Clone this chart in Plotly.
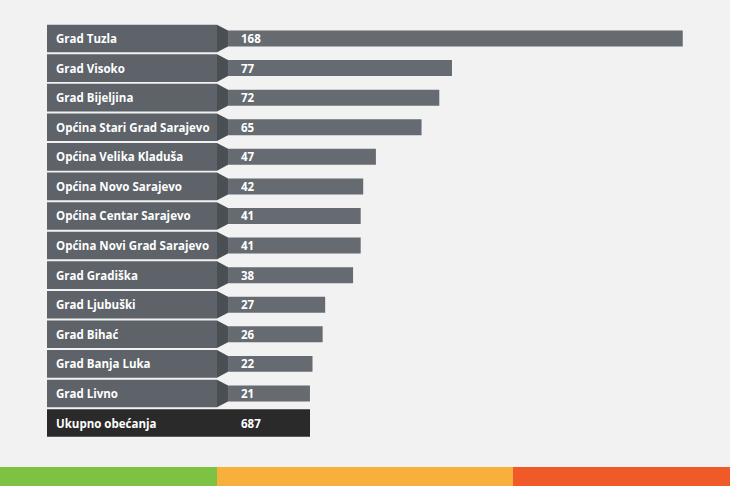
import plotly.graph_objects as go

categories = [
    "Grad Tuzla", "Grad Visoko", "Grad Bijeljina", "Općina Stari Grad Sarajevo",
    "Općina Velika Kladuša", "Općina Novo Sarajevo", "Općina Centar Sarajevo",
    "Općina Novi Grad Sarajevo", "Grad Gradiška", "Grad Ljubuški", "Grad Bihać",
    "Grad Banja Luka", "Grad Livno",
]
values = [168, 77, 72, 65, 47, 42, 41, 41, 38, 27, 26, 22, 21]
total_label = "Ukupno obećanja"
total_value = 687

# layout / style constants (pixels of the 730x486 page)
W, H = 730, 486
ROW0, PITCH = 38.5, 29.58          # centre of first row, row pitch
X_ZERO, PX_PER_UNIT = 256.7, 2.536  # pixel of value 0, pixels per unit
BAR_BASE = -11.3                    # bars start under the arrow tip
BOX_L, BOX_R, TIP_R = 47, 217, 228
TOTAL_R = 310
LABEL_X, VALUE_X = 54, 239
BOX_HALF = 0.467
BAR_WIDTH = 0.54

BG = "#f2f2f2"
BOX_C = "#5d6369"
TIP_C = "#4a4f54"
BAR_C = "#656b71"
TOTAL_C = "#2a2a2a"
FONT = "Open Sans"
FS = 11.5

n = len(categories)
idx = list(range(n))

fig = go.Figure()
fig.add_trace(go.Bar(
    y=idx, x=[v - BAR_BASE for v in values], base=BAR_BASE,
    orientation="h", width=BAR_WIDTH, marker=dict(color=BAR_C, line=dict(width=0)),
    hoverinfo="skip",
))

shapes = []
annotations = []
px = lambda p: p / W
font = dict(family=FONT, size=FS, color="white", weight=700)
for i, (c, v) in enumerate(zip(categories, values)):
    shapes.append(dict(type="rect", xref="paper", yref="y",
                       x0=px(BOX_L), x1=px(BOX_R), y0=i - BOX_HALF, y1=i + BOX_HALF,
                       fillcolor=BOX_C, line=dict(width=0), layer="above"))
    path = (f"M {px(BOX_R)},{i - BOX_HALF} L {px(TIP_R)},{i - BAR_WIDTH/2} "
            f"L {px(TIP_R)},{i + BAR_WIDTH/2} L {px(BOX_R)},{i + BOX_HALF} Z")
    shapes.append(dict(type="path", xref="paper", yref="y", path=path,
                       fillcolor=TIP_C, line=dict(width=0), layer="above"))
    annotations.append(dict(xref="paper", yref="y", x=px(LABEL_X), y=i, text=c,
                            xanchor="left", yanchor="middle", showarrow=False, font=font))
    annotations.append(dict(xref="paper", yref="y", x=px(VALUE_X), y=i, text=str(v),
                            xanchor="left", yanchor="middle", showarrow=False, font=font))

ti = n
shapes.append(dict(type="rect", xref="paper", yref="y",
                   x0=px(BOX_L), x1=px(TOTAL_R), y0=ti - BOX_HALF, y1=ti + BOX_HALF,
                   fillcolor=TOTAL_C, line=dict(width=0), layer="above"))
annotations.append(dict(xref="paper", yref="y", x=px(LABEL_X), y=ti, text=total_label,
                        xanchor="left", yanchor="middle", showarrow=False, font=font))
annotations.append(dict(xref="paper", yref="y", x=px(VALUE_X), y=ti, text=str(total_value),
                        xanchor="left", yanchor="middle", showarrow=False, font=font))

# bottom colour stripe
stripe_top = (H - 467) / H
for x0, x1, col in [(0, 217, "#7dc242"), (217, 513, "#f8b03c"), (513, 730, "#f05a28")]:
    shapes.append(dict(type="rect", xref="paper", yref="paper",
                       x0=px(x0), x1=px(x1), y0=0, y1=stripe_top,
                       fillcolor=col, line=dict(width=0), layer="above"))

fig.update_layout(
    width=W, height=H, margin=dict(l=0, r=0, t=0, b=0),
    paper_bgcolor=BG, plot_bgcolor=BG, showlegend=False,
    shapes=shapes, annotations=annotations,
    xaxis=dict(visible=False, range=[-X_ZERO / PX_PER_UNIT, (W - X_ZERO) / PX_PER_UNIT],
               fixedrange=True),
    yaxis=dict(visible=False, range=[(H - ROW0) / PITCH, -ROW0 / PITCH], fixedrange=True),
)

fig.write_html("out.html")
